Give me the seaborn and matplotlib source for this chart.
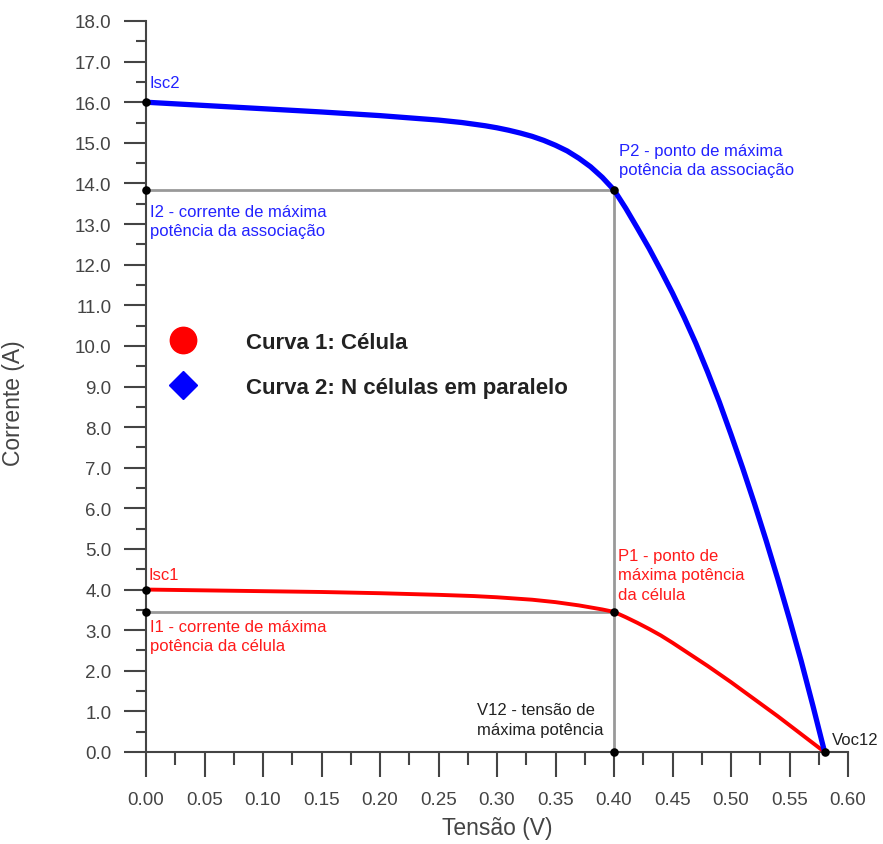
import matplotlib
matplotlib.use("Agg")
import matplotlib.pyplot as plt
from matplotlib.lines import Line2D
from matplotlib.ticker import MultipleLocator, FormatStrFormatter
import pandas as pd
import seaborn as sns

# Curva 1: one cell
v_cell = [0.00, 0.05, 0.10, 0.15, 0.20, 0.25, 0.28, 0.30, 0.32, 0.33, 0.34, 0.35,
          0.36, 0.37, 0.38, 0.39, 0.40, 0.41, 0.42, 0.43, 0.44, 0.45, 0.46, 0.47,
          0.48, 0.49, 0.50, 0.51, 0.52, 0.53, 0.54, 0.55, 0.56, 0.57, 0.58]
i_cell = [4.00, 3.98, 3.96, 3.94, 3.91, 3.87, 3.84, 3.81, 3.77, 3.75, 3.72, 3.69,
          3.65, 3.61, 3.56, 3.51, 3.45, 3.32, 3.18, 3.03, 2.87, 2.69, 2.50, 2.31,
          2.12, 1.92, 1.72, 1.51, 1.30, 1.09, 0.88, 0.66, 0.44, 0.22, 0.00]

# Curva 2: N cells in parallel
v_par = [0.00, 0.05, 0.10, 0.15, 0.20, 0.25, 0.27, 0.29, 0.30, 0.31, 0.32, 0.33,
         0.34, 0.35, 0.36, 0.37, 0.38, 0.39, 0.40, 0.41, 0.42, 0.43, 0.44, 0.45,
         0.46, 0.47, 0.48, 0.49, 0.50, 0.51, 0.52, 0.53, 0.54, 0.55, 0.56, 0.57, 0.58]
i_par = [16.00, 15.92, 15.84, 15.76, 15.67, 15.56, 15.50, 15.42, 15.37, 15.31, 15.24, 15.16,
         15.06, 14.94, 14.80, 14.62, 14.41, 14.15, 13.84, 13.39, 12.90, 12.40, 11.86, 11.30,
         10.70, 10.06, 9.36, 8.62, 7.82, 6.99, 6.12, 5.21, 4.26, 3.27, 2.24, 1.14, 0.00]

# Characteristic points
isc1, isc2 = 4.00, 16.00
vmp, voc = 0.40, 0.58
imp1, imp2 = 3.45, 13.84

curve_names = ["Curva 1: Célula", "Curva 2: N células em paralelo"]

df = pd.concat([
    pd.DataFrame({"Tensão (V)": v_cell, "Corrente (A)": i_cell, "curva": curve_names[0]}),
    pd.DataFrame({"Tensão (V)": v_par, "Corrente (A)": i_par, "curva": curve_names[1]}),
])

sns.set_theme(style="white")
plt.rcParams["font.family"] = ["Liberation Sans", "DejaVu Sans"]

W, H = 883, 845
fig = plt.figure(figsize=(W / 100, H / 100), dpi=100)
fig.patch.set_facecolor("white")
ax = fig.add_axes([146 / W, 1 - 753 / H, 702 / W, 731 / H])
ax.set_facecolor("white")

axis_col = "#444444"
guide_col = "#999999"

# guide lines to the maximum power points
ax.plot([0, vmp], [imp2, imp2], color=guide_col, lw=2.0, zorder=2, clip_on=False)
ax.plot([vmp, vmp], [0, imp2], color=guide_col, lw=2.0, zorder=2, clip_on=False)
ax.plot([0, vmp], [imp1, imp1], color=guide_col, lw=2.0, zorder=2, clip_on=False)

sns.lineplot(data=df, x="Tensão (V)", y="Corrente (A)", hue="curva",
             palette={curve_names[0]: "#ff0000", curve_names[1]: "#0000ff"},
             size="curva", sizes={curve_names[0]: 2.8, curve_names[1]: 3.8},
             sort=False, estimator=None, legend=False, ax=ax, zorder=3)
for ln in ax.lines:
    ln.set_clip_on(False)
    ln.set_solid_joinstyle("round")

# black markers on the key points
pts_v = [0, 0, vmp, 0, 0, vmp, vmp, voc]
pts_i = [isc2, imp2, imp2, isc1, imp1, imp1, 0, 0]
ax.scatter(pts_v, pts_i, s=38, color="black", zorder=5, clip_on=False, linewidths=0)

ax.set_xlim(0, 0.60)
ax.set_ylim(0, 18)

for side in ("top", "right"):
    ax.spines[side].set_visible(False)
for side in ("left", "bottom"):
    ax.spines[side].set_color(axis_col)
    ax.spines[side].set_linewidth(1.5)

ax.xaxis.set_major_locator(MultipleLocator(0.05))
ax.xaxis.set_minor_locator(MultipleLocator(0.025))
ax.yaxis.set_major_locator(MultipleLocator(1.0))
ax.yaxis.set_minor_locator(MultipleLocator(0.5))
ax.xaxis.set_major_formatter(FormatStrFormatter("%.2f"))
ax.yaxis.set_major_formatter(FormatStrFormatter("%.1f"))

ax.tick_params(axis="x", which="major", direction="out", length=18, width=1.5,
               color=axis_col, labelsize=13.5, labelcolor=axis_col, pad=10, bottom=True)
ax.tick_params(axis="x", which="minor", direction="out", length=9, width=1.5,
               color=axis_col, bottom=True)
ax.tick_params(axis="y", which="major", direction="out", length=16, width=1.5,
               color=axis_col, labelsize=13.5, labelcolor=axis_col, pad=9, left=True)
ax.tick_params(axis="y", which="minor", direction="out", length=7, width=1.5,
               color=axis_col, left=True)

ax.set_xlabel("Tensão (V)", fontsize=16.5, color=axis_col, labelpad=6)
ax.set_ylabel("Corrente (A)", fontsize=16.5, color=axis_col)
ax.yaxis.set_label_coords(-0.172, 0.479)

# annotations
ann = dict(fontsize=12, linespacing=1.38)
blue_txt, red_txt, dark_txt = "#2222ff", "#ff1a1a", "#222222"
ax.text(0.003, 16.38, "Isc2", color=blue_txt, va="baseline", ha="left", **ann)
ax.text(0.0035, 13.50, "I2 - corrente de máxima\npotência da associação",
        color=blue_txt, va="top", ha="left", **ann)
ax.text(0.4043, 15.00, "P2 - ponto de máxima\npotência da associação",
        color=blue_txt, va="top", ha="left", **ann)
ax.text(0.002, 4.26, "Isc1", color=red_txt, va="baseline", ha="left", **ann)
ax.text(0.0035, 3.28, "I1 - corrente de máxima\npotência da célula",
        color=red_txt, va="top", ha="left", **ann)
ax.text(0.4034, 5.03, "P1 - ponto de\nmáxima potência\nda célula",
        color=red_txt, va="top", ha="left", **ann)
ax.text(0.283, 1.22, "V12 - tensão de\nmáxima potência",
        color=dark_txt, va="top", ha="left", **ann)
ax.text(0.5863, 0.20, "Voc12", color=dark_txt, va="baseline", ha="left", **ann)

# key for the two curves
handles = [
    Line2D([], [], ls="", marker="o", ms=19, color="#ff0000"),
    Line2D([], [], ls="", marker="D", ms=14, color="#0000ff"),
]
leg = ax.legend(handles, curve_names, loc="upper left", bbox_to_anchor=(0.0285, 0.575),
                frameon=False, borderpad=0, borderaxespad=0, handlelength=1.55,
                handletextpad=2.05, labelspacing=1.08,
                prop={"size": 16, "weight": "bold"})
for t in leg.get_texts():
    t.set_color("#222222")

fig.savefig("out.png", dpi=100, facecolor="white")
